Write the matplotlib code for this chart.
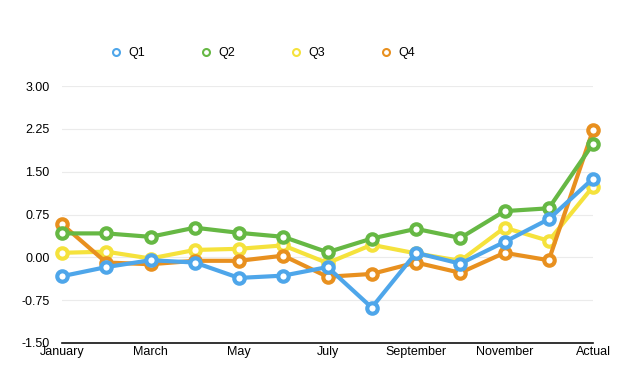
import matplotlib.pyplot as plt

# -----------------------------
# DATA
# -----------------------------
months = ["January", "February", "March", "April", "May", "June", "July",
          "August", "September", "October", "November", "December", "Actual"]

q1 = [-0.33, -0.17, -0.05, -0.09, -0.36, -0.32, -0.17, -0.88, 0.08, -0.11, 0.27, 0.67, 1.38]
q2 = [0.42, 0.42, 0.36, 0.52, 0.43, 0.36, 0.09, 0.33, 0.50, 0.34, 0.81, 0.86, 1.99]
q3 = [0.08, 0.10, -0.02, 0.13, 0.15, 0.21, -0.10, 0.22, 0.07, -0.06, 0.52, 0.29, 1.24]
q4 = [0.58, -0.09, -0.12, -0.06, -0.06, 0.03, -0.34, -0.29, -0.09, -0.27, 0.08, -0.05, 2.23]

y_ticks = [-1.50, -0.75, 0.00, 0.75, 1.50, 2.25, 3.00]

# -----------------------------
# STYLE
# -----------------------------
plt.rcParams['font.family'] = ['Liberation Sans', 'DejaVu Sans']
plt.rcParams['font.size'] = 9

series = [
    ("Q3", q3, "#f5e23c", 2),
    ("Q4", q4, "#e8901f", 3),
    ("Q2", q2, "#66b844", 4),
    ("Q1", q1, "#4ea6ea", 5),
]

fig = plt.figure(figsize=(6.4, 3.88), dpi=100)
ax = fig.add_axes([0.0969, 0.116, 0.8297, 0.662])

x = list(range(len(months)))
colors = {}
for name, vals, color, z in series:
    ax.plot(x, vals, color=color, linewidth=3, marker="o",
            markersize=7.5, markeredgewidth=3, markerfacecolor="white",
            markeredgecolor=color, zorder=z, clip_on=False)
    colors[name] = color

ax.set_xlim(0, len(months) - 1)
ax.set_ylim(-1.5, 3.0)
ax.set_yticks(y_ticks)
ax.set_yticklabels([f"{v:.2f}" for v in y_ticks])
ax.set_xticks(x[::2])
ax.set_xticklabels(months[::2])

ax.grid(axis="y", color="#ebebeb", linewidth=0.8)
ax.set_axisbelow(True)
for s in ["top", "right", "left"]:
    ax.spines[s].set_visible(False)
ax.spines["bottom"].set_color("#111111")
ax.spines["bottom"].set_linewidth(1.2)
ax.spines["bottom"].set_zorder(1)
ax.tick_params(axis="y", length=0, pad=9)
ax.tick_params(axis="x", length=0, pad=2)

# legend: open markers only
leg_handles = []
for name in ["Q1", "Q2", "Q3", "Q4"]:
    c = colors[name]
    h, = ax.plot([], [], linestyle="none", marker="o", markersize=5,
                 markeredgewidth=1.5, markerfacecolor="white", markeredgecolor=c)
    leg_handles.append(h)
fig.legend(leg_handles, ["Q1", "Q2", "Q3", "Q4"], loc="center",
           bbox_to_anchor=(0.41, 0.863), ncol=4, frameon=False,
           handlelength=1, handletextpad=0.5, columnspacing=4.35)

fig.savefig("out.png", dpi=100)
